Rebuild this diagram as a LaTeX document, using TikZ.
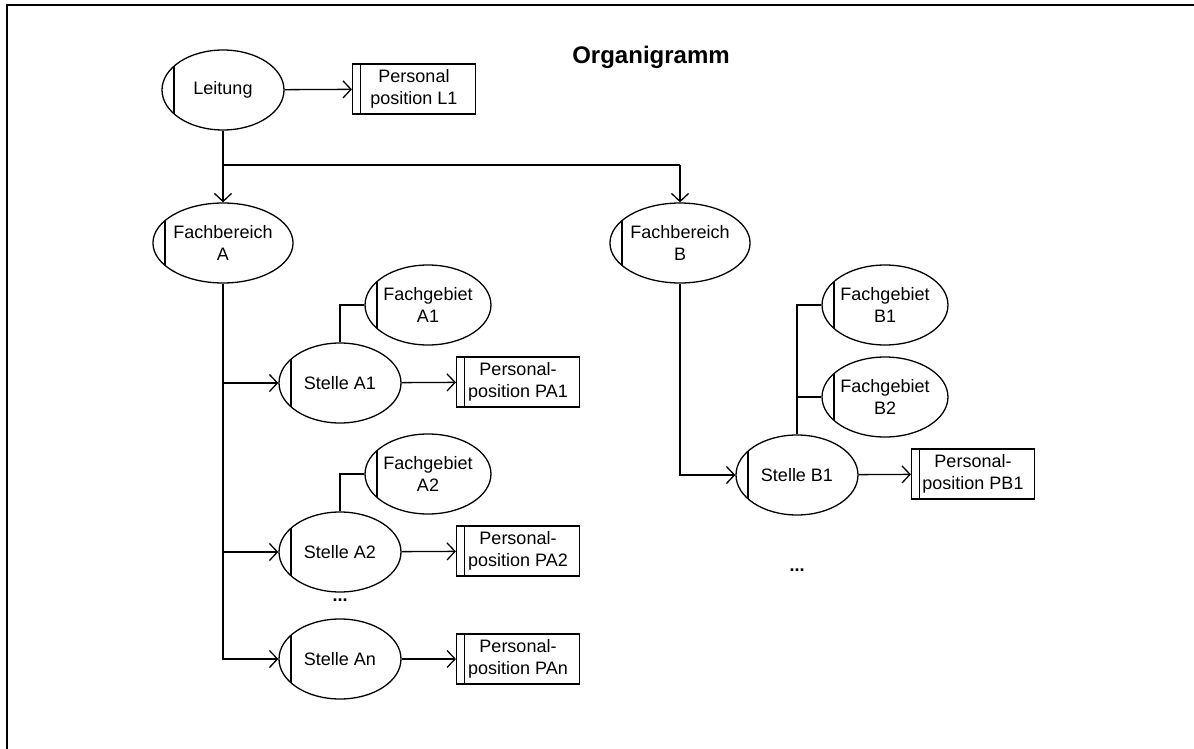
\documentclass[tikz,border=0pt]{standalone}
\usepackage{fontspec}
\setmainfont{Liberation Sans}
\usetikzlibrary{shapes.geometric,arrows.meta}

\begin{document}
\begin{tikzpicture}[x=1pt,y=-1pt,
  every node/.style={font=\fontsize{18}{21.5}\selectfont, align=center, inner sep=0pt},
  orgunit/.style={draw, line width=1.3pt, ellipse, minimum width=122pt, minimum height=80pt,
    path picture={\draw[line width=1.3pt]
      ([xshift=12pt]path picture bounding box.north west) --
      ([xshift=12pt]path picture bounding box.south west);}},
  posbox/.style={draw, line width=1.1pt, rectangle, minimum width=123pt, minimum height=50pt,
    path picture={\draw[line width=1.1pt]
      ([xshift=8pt]path picture bounding box.north west) --
      ([xshift=8pt]path picture bounding box.south west);}},
  link/.style={line width=1.3pt},
  arr/.style={link, -{Straight Barb[length=8pt,width=17pt,line width=1.3pt]}},
  dotsnode/.style={font=\fontsize{18}{21.5}\selectfont\bfseries}
]
\useasboundingbox (0,0) rectangle (1194,749);
\fill[white] (0,0) rectangle (1194,749);

% outer frame (runs past the right and bottom edges)
\draw[line width=2pt] (1194,5) -- (7,5) -- (7,749);

% title
\node[font=\fontsize{24}{28}\selectfont\bfseries] (title) at (651,57) {Organigramm};

% management level
\node[orgunit] (lei) at (223,90) {Leitung};
\node[posbox] (pL1) at (414,89) {Personal\\position L1};

% departments
\node[orgunit] (fbA) at (223,243) {Fachbereich\\A};
\node[orgunit] (fbB) at (680,243) {Fachbereich\\B};

% positions in department A
\node[orgunit] (sA1) at (340,383) {Stelle A1};
\node[orgunit] (fgA1) at (428,305) {Fachgebiet\\A1};
\node[posbox] (pA1) at (518,382) {Personal-\\position PA1};

\node[orgunit] (sA2) at (340,552) {Stelle A2};
\node[orgunit] (fgA2) at (428,474) {Fachgebiet\\A2};
\node[posbox] (pA2) at (518,551) {Personal-\\position PA2};

\node[dotsnode] (dA) at (340,600) {...};

\node[orgunit] (sAn) at (340,659) {Stelle An};
\node[posbox] (pAn) at (518,659) {Personal-\\position PAn};

% positions in department B
\node[orgunit] (sB1) at (797,475) {Stelle B1};
\node[orgunit] (fgB1) at (885,305) {Fachgebiet\\B1};
\node[orgunit] (fgB2) at (885,397) {Fachgebiet\\B2};
\node[posbox] (pB1) at (973,474) {Personal-\\position PB1};

\node[dotsnode] (dB) at (797,570) {...};

% junctions below the management node
\coordinate (jl) at (223,165);
\coordinate (jr) at (680,165);

% connectors
\draw[arr] (lei) -- (pL1);
\draw[link] (lei.south) -- (jl);
\draw[arr] (jl) -- (fbA.north);
\draw[link] (jl) -- (jr);
\draw[arr] (jr) -- (fbB.north);

\draw[arr] (fbA.south) |- (sA1.west);
\draw[arr] (fbA.south) |- (sA2.west);
\draw[arr] (fbA.south) |- (sAn.west);

\draw[link] (sA1.north) |- (fgA1.west);
\draw[link] (sA2.north) |- (fgA2.west);

\draw[arr] (sA1) -- (pA1);
\draw[arr] (sA2) -- (pA2);
\draw[arr] (sAn) -- (pAn);

\draw[arr] (fbB.south) |- (sB1.west);
\draw[link] (sB1.north) |- (fgB1.west);
\draw[link] (sB1.north) |- (fgB2.west);
\draw[arr] (sB1) -- (pB1);
\end{tikzpicture}
\end{document}
